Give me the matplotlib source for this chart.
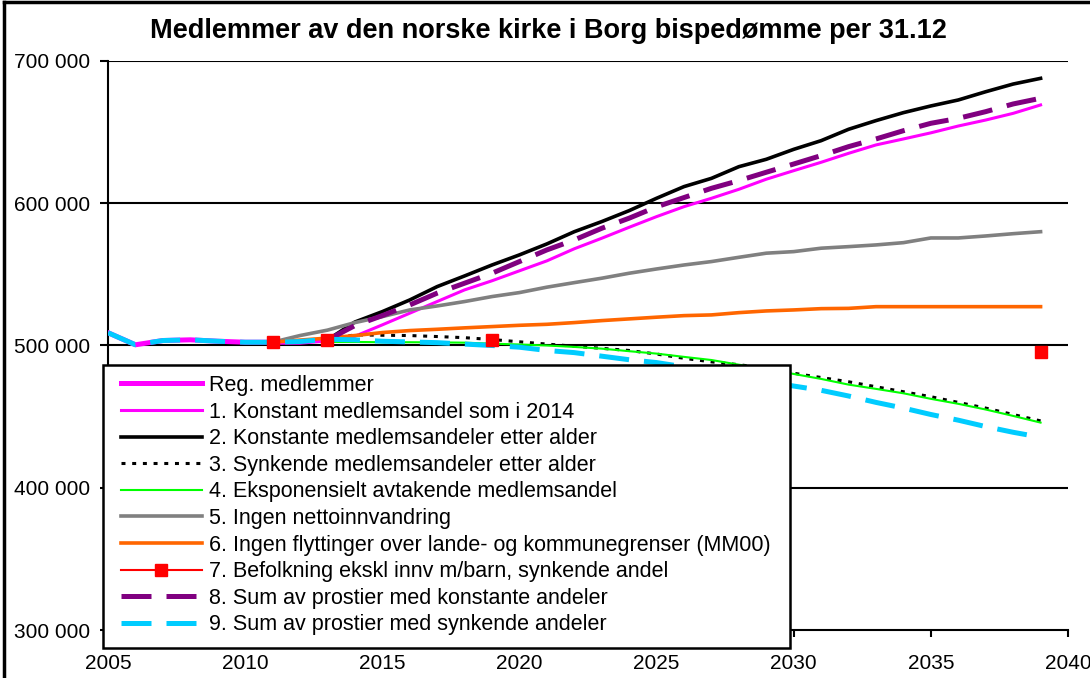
import numpy as np
import matplotlib
matplotlib.use("Agg")
import matplotlib.pyplot as plt
from matplotlib.ticker import FuncFormatter
from matplotlib.patches import Rectangle
from matplotlib.lines import Line2D

plt.rcParams['font.family'] = ['Liberation Sans', 'DejaVu Sans']

nan = np.nan
years = list(range(2005, 2040))

reg = [509000, 500500, 503500, 504000, 503000, 502300, 502300, 502300, 503900] + [nan] * 26

s1 = [nan] * 8 + [503900, 506500, 514500, 522700, 530900, 539100, 545500, 552500, 559500, 568000,
                  575400, 583100, 590600, 597600, 603500, 609800, 616900, 622900, 628800, 635100,
                  641000, 645200, 649500, 654300, 658500, 663200, 669100]

s2 = [nan] * 8 + [503900, 516500, 523800, 532000, 541400, 548900, 556600, 563700, 571400, 580000,
                  587100, 594800, 603500, 611700, 617500, 625700, 630900, 637900, 644000, 652000,
                  658100, 663700, 668400, 672600, 678400, 683800, 687800]

s3 = [nan] * 8 + [503900, 507500, 507200, 507000, 506300, 505500, 504200, 502600, 501000, 499500,
                  498000, 496500, 494000, 491000, 488500, 486500, 484000, 480500, 477500, 474500,
                  471000, 467500, 464000, 460000, 456000, 451500, 447000]

s4 = [nan] * 8 + [502500, 502500, 502300, 502300, 502200, 502000, 501300, 500700, 500000, 499000,
                  497800, 496000, 494300, 492000, 489800, 486500, 483500, 480000, 476500, 472500,
                  469500, 466400, 462500, 459000, 455000, 450500, 445800]

s5 = [nan] * 6 + [502300, 507000, 510800, 516100, 520300, 525000, 527800, 530900, 534400, 537200,
                  541000, 544200, 547300, 550800, 553800, 556600, 559000, 562000, 564900, 566000,
                  568400, 569500, 570700, 572300, 575600, 575600, 577000, 578600, 580000]

s6 = [nan] * 6 + [502300, 503800, 505200, 507000, 509100, 510500, 511400, 512400, 513300, 514200,
                  514900, 516100, 517500, 518700, 519900, 521000, 521500, 523100, 524300, 525000,
                  525900, 526100, 527300, 527300, 527300, 527300, 527300, 527300, 527300]

s7 = [nan] * 35
s7[2011 - 2005] = 502300
s7[2013 - 2005] = 503900
s7[2019 - 2005] = 503900
s7[2039 - 2005] = 495300

s8 = [nan] * 8 + [503900, 514000, 521000, 528500, 536800, 543800, 550800, 559000, 567200, 574200,
                  582400, 589500, 597500, 604000, 610500, 615900, 621800, 627600, 633500, 639800,
                  645200, 651000, 656200, 659700, 664400, 669800, 673800]

s9 = [509000, 500500, 503500, 504000, 503000, 502300, 502300, 502800, 504400, 504000, 503000,
      502500, 502000, 501000, 500000, 498800, 496500, 495000, 492500, 490000, 488000, 485000,
      481500, 478000, 474500, 471500, 468500, 464500, 460000, 456000, 451500, 447500, 443000,
      439000, 435500]

labels = ["Reg. medlemmer",
          "1. Konstant medlemsandel som i 2014",
          "2. Konstante medlemsandeler etter alder",
          "3. Synkende medlemsandeler etter alder",
          "4. Eksponensielt avtakende medlemsandel",
          "5. Ingen nettoinnvandring",
          "6. Ingen flyttinger over lande- og kommunegrenser (MM00)",
          "7. Befolkning ekskl innv m/barn, synkende andel",
          "8. Sum av prostier med konstante andeler",
          "9. Sum av prostier med synkende andeler"]

title = "Medlemmer av den norske kirke i Borg bispedømme per 31.12"
yticks = [300000, 400000, 500000, 600000, 700000]
xticks = [2005, 2010, 2015, 2020, 2025, 2030, 2035, 2040]

W, H = 1090, 678
fig = plt.figure(figsize=(W / 100, H / 100), dpi=100)
L, R, T, B = 108, 1068, 61, 630
ax = fig.add_axes([L / W, 1 - B / H, (R - L) / W, (B - T) / H])

ax.set_xlim(2005, 2040)
ax.set_ylim(300000, 700000)

for yv in yticks[1:]:
    ax.axhline(yv, color='black', lw=1.5, zorder=1)

h = []
h += ax.plot(years, reg, color='#FF00FF', lw=3.6, zorder=3)
h += ax.plot(years, s1, color='#FF00FF', lw=2.2, zorder=3)
h += ax.plot(years, s2, color='black', lw=2.6, zorder=3)
h += ax.plot(years, s3, color='black', lw=2.2, dashes=(1.3, 2.2), zorder=3)
h += ax.plot(years, s4, color='#00FF00', lw=1.5, zorder=3)
h += ax.plot(years, s5, color='#808080', lw=2.6, zorder=3)
h += ax.plot(years, s6, color='#FF6600', lw=2.6, zorder=3)
h += ax.plot(years, s7, color='#FF0000', lw=1.5, marker='s', ms=8.5, zorder=5)
h += ax.plot(years, s8, color='#800080', lw=3.6, dashes=(6, 3), zorder=3)
h += ax.plot(years, s9, color='#00CCFF', lw=3.6, dashes=(6, 3), zorder=3)

for side in ['top', 'right']:
    ax.spines[side].set_visible(False)
for side in ['left', 'bottom']:
    ax.spines[side].set_linewidth(1.5)
    ax.spines[side].set_color('black')

ax.set_yticks(yticks)
ax.yaxis.set_major_formatter(FuncFormatter(lambda v, p: f"{int(v):,}".replace(",", " ")))
ax.set_xticks(xticks)
ax.tick_params(axis='y', direction='out', length=6, width=1.5, pad=7, labelsize=15)
ax.tick_params(axis='x', direction='out', length=5, width=1.5, pad=12, labelsize=15)

# legend box
def ax_xy(px, py):
    return (px - L) / (R - L), (B - py) / (B - T)

x0, y0 = ax_xy(103, 648)
x1, y1 = ax_xy(790, 365)
ax.add_patch(Rectangle((x0, y0), x1 - x0, y1 - y0, transform=ax.transAxes,
                       facecolor='white', edgecolor='black', lw=1.8, zorder=8, clip_on=False))

lx, ly = ax_xy(121, 375)
leg = ax.legend(h, labels, loc='upper left', bbox_to_anchor=(lx, ly), frameon=False,
                fontsize=15.5, handlelength=3.75, handletextpad=0.33, labelspacing=0.26,
                borderpad=0, borderaxespad=0, numpoints=1)
leg.set_zorder(9)

fig.text(548 / W, 1 - 31 / H, title, ha='center', va='center', fontsize=19.5, fontweight='bold')

# chart border (left and top)
fig.add_artist(Line2D([4 / W, 4 / W], [0, 1 - 2 / H], color='black', lw=2.5, transform=fig.transFigure))
fig.add_artist(Line2D([4 / W, 1], [1 - 2 / H, 1 - 2 / H], color='black', lw=2.5, transform=fig.transFigure))

fig.savefig('out.png', dpi=100)
